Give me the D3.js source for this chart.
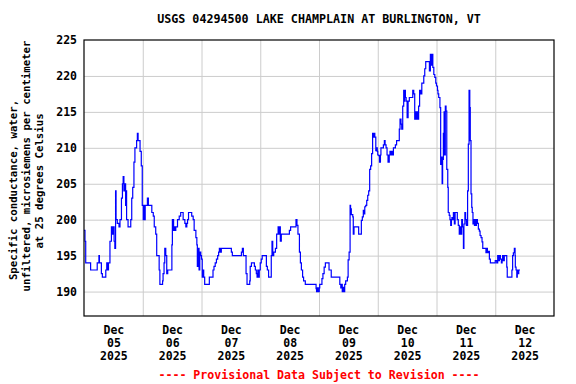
<!DOCTYPE html>
<html>
<head>
<meta charset="utf-8">
<script src="https://cdn.jsdelivr.net/npm/d3@7"></script>
<style>
body { margin: 0; background: #fff; }
svg text { font-family: "DejaVu Sans Mono", "Liberation Mono", monospace; font-weight: bold; fill: #000; }
</style>
</head>
<body>
<div id="chart"></div>
<script>
var chartTitle = "USGS 04294500 LAKE CHAMPLAIN AT BURLINGTON, VT";
var yTitleLines = ["Specific conductance, water,", "unfiltered, microsiemens per centimeter", "at 25 degrees Celsius"];
var footNote = "---- Provisional Data Subject to Revision ----";

var startDate = new Date(2025, 11, 5);
var endDate = new Date(2025, 11, 13);
var yTicks = [190, 195, 200, 205, 210, 215, 220, 225];
var dayLabels = ["05", "06", "07", "08", "09", "10", "11", "12"];

// hours after Dec 05 00:00 where the reading changes
var obsHours = [
  0, 0.4, 0.7, 2.7, 5.4, 6.1, 6.3, 7.1, 7.5, 8.9, 9.3, 9.6, 10.0, 10.6, 11.2, 11.6, 12.0, 12.3, 12.6, 12.9,
  13.1, 13.6, 14.3, 14.7, 15.3, 15.7, 16.0, 16.3, 16.6, 17.0, 17.3, 17.4, 18.0, 19.1, 19.5, 19.9, 20.4, 20.8, 21.5, 21.8,
  22.1, 22.9, 23.4, 23.8, 24.2, 24.5, 24.7, 25.0, 25.9, 26.3, 27.7, 28.3, 28.7, 29.3, 29.7, 30.7, 31.0, 32.1, 32.3, 32.7,
  33.0, 33.4, 33.8, 34.2, 35.9, 36.1, 36.6, 37.0, 37.3, 37.5, 38.2, 38.9, 39.5, 40.5, 41.2, 41.6, 42.0, 42.3, 42.7, 44.0,
  44.6, 45.0, 45.7, 46.1, 46.3, 46.7, 47.0, 47.3, 47.7, 48.0, 48.3, 48.6, 48.9, 49.3, 51.2, 52.7, 53.1, 53.6, 54.1, 54.6,
  55.0, 55.3, 55.6, 56.1, 60.2, 60.6, 64.3, 64.7, 65.1, 66.2, 66.6, 67.7, 67.9, 68.4, 69.6, 70.0, 70.4, 70.7, 71.0, 71.3,
  71.6, 72.0, 72.4, 72.8, 74.5, 74.9, 75.4, 76.5, 76.8, 77.1, 77.5, 78.2, 78.7, 79.3, 79.7, 80.0, 80.2, 80.6, 83.9, 84.4,
  86.6, 87.0, 87.4, 88.0, 88.4, 88.8, 89.3, 89.7, 90.4, 94.8, 95.0, 95.3, 95.6, 96.1, 96.3, 97.2, 97.6, 98.1, 98.6, 100.1,
  101.0, 104.5, 104.9, 105.2, 105.5, 105.8, 106.2, 106.5, 106.9, 107.6, 107.9, 108.3, 108.7, 108.9, 109.2, 109.8, 110.0, 110.3, 112.2, 113.3,
  113.7, 114.1, 114.4, 114.7, 115.1, 115.5, 115.9, 116.3, 116.7, 117.1, 117.5, 117.9, 118.2, 118.5, 118.8, 119.2, 119.5, 119.8, 120.0, 120.4,
  120.7, 121.1, 121.3, 122.3, 122.7, 123.0, 123.4, 123.8, 124.2, 124.7, 125.0, 125.2, 125.6, 126.0, 126.4, 127.2, 127.7, 128.8, 129.1, 129.5,
  129.8, 130.2, 130.6, 130.8, 131.0, 131.3, 131.6, 132.0, 132.4, 132.9, 134.3, 134.7, 135.1, 135.4, 135.7, 136.0, 136.3, 136.7, 137.1, 137.5,
  138.0, 138.8, 139.2, 139.6, 141.1, 141.5, 141.8, 142.2, 142.5, 142.9, 143.3, 143.7, 144.0, 144.4, 144.6, 144.9, 145.4, 145.7, 146.0, 146.3,
  146.5, 146.8, 147.1, 147.3, 147.6, 147.9, 148.2, 148.6, 148.8, 149.2, 149.5, 149.8, 150.1, 150.3, 150.6, 150.9, 151.3, 151.6, 152.2, 152.5,
  152.9, 153.3, 153.6, 153.9, 154.3, 154.6, 155.0, 155.2, 155.6, 155.9, 156.2, 156.7, 157.0, 157.3, 157.6, 157.8, 158.1, 158.4, 158.6, 158.9,
  159.2, 159.5, 159.7, 160.0, 160.3, 160.7, 161.1, 161.5, 161.8, 162.2, 162.6, 162.9, 163.7, 164.2, 164.5, 164.8, 165.2, 165.6, 166.0, 167.6,
  168.0, 168.6, 169.0, 169.4, 169.7, 170.1, 170.5, 170.8, 171.0, 171.3, 171.7, 172.4, 172.7, 172.9, 174.4, 174.8, 175.1, 175.4, 175.8, 176.1,
  176.2, 176.5, 176.8, 177.0, 177.3, 177.6, 178.1
];
var obsValues = [
  198.5, 197, 194, 193, 194, 195, 194, 192.5, 192, 193, 194, 193, 194, 197, 199, 198, 199, 197, 196, 204,
  200, 199.5, 199, 200, 203, 205, 206, 204, 205, 202, 204, 200, 199, 200, 203, 204.5, 208, 210, 211, 212,
  211, 209.5, 207.5, 202, 200, 202, 200, 202, 203, 202, 201, 200.5, 199, 198, 195, 193, 191, 191.5, 192.5, 194,
  196, 195, 192.5, 193, 196.5, 200, 198.5, 199, 198.5, 199, 200, 200.5, 201, 200, 199.5, 199, 199.5, 200, 201, 200.5,
  200, 198.5, 197.5, 196.5, 193.5, 196, 193, 195.5, 195, 194.5, 192, 193, 192, 191, 192, 193, 193.5, 194, 194.5, 195,
  195.5, 196, 195.5, 196, 195.5, 195, 195.5, 196, 195, 192.5, 191, 191.5, 193.5, 194, 193.5, 193, 192.5, 192, 193, 192,
  193, 194, 194.5, 195, 193.5, 193, 192, 195, 197, 195, 195.5, 196, 198, 199, 198, 199, 197, 198, 198.5, 199,
  200, 199.2, 198, 195.5, 194, 193, 192, 191.5, 191, 190.4, 190, 190.5, 190, 190.5, 191, 191.8, 192.5, 193.4, 194, 193,
  192, 191, 190.5, 191, 190, 190.6, 190, 191, 191.5, 192, 194.4, 195.5, 202, 201.5, 200.7, 200.4, 198, 199, 198, 199.9,
  200.4, 201.3, 200.8, 201.8, 202, 202.7, 203.4, 204, 207, 207.5, 209.2, 212, 211.5, 212, 211.5, 209.6, 210, 209.5, 209, 208.9,
  208, 209, 210, 210.4, 211, 210.4, 210, 209, 208, 209, 209.5, 209, 209.5, 209, 210, 210.4, 211, 212.6, 214, 213.3,
  212.6, 215.8, 218, 216.5, 218, 217, 216.5, 214.2, 216.5, 217, 218, 217.5, 214, 215, 214, 215, 214, 215.8, 218, 217.5,
  219, 220, 221, 222, 220.7, 223, 221.5, 223, 221.2, 220.2, 219.8, 219, 218.6, 218, 217.5, 217, 215.6, 207.7, 208.7, 205,
  208.4, 212, 215, 209, 215.8, 215.1, 207, 204.5, 201, 200.6, 200, 199.2, 200, 200.3, 200, 201, 199.4, 201, 201, 200,
  199.2, 198, 199, 198, 200, 199, 196, 199.4, 201, 200, 199.2, 204, 210.5, 218, 215.6, 211, 203.6, 201.7, 201, 199.4,
  200, 199.2, 200, 199.2, 200, 199.5, 198.7, 198.4, 197.8, 197.5, 196.9, 196, 196, 195.4, 196, 195.4, 195.6, 194.5, 194, 194,
  194.3, 194, 195, 194.3, 195, 194.5, 194, 194.3, 195, 194.3, 195, 195, 193.4, 192, 192, 193, 195, 195.4, 196, 195,
  193.4, 193, 192, 193, 192.5, 193, 193
];

var width = 576, height = 384;
var margin = { top: 40, left: 84, right: 22, bottom: 68 };
var plotW = width - margin.left - margin.right;
var plotH = height - margin.top - margin.bottom;

var readings = obsHours.map(function (h, i) {
  return { date: new Date(startDate.getTime() + h * 3600000), value: obsValues[i] };
});

var svg = d3.select("#chart").append("svg")
  .attr("width", width)
  .attr("height", height);

var g = svg.append("g")
  .attr("transform", "translate(" + margin.left + "," + margin.top + ")");

var x = d3.scaleTime().domain([startDate, endDate]).range([0, plotW]);
var y = d3.scaleLinear().domain([186.6, 225]).range([plotH, 0]);

// grid
var midnights = d3.timeDay.range(d3.timeDay.offset(startDate, 1), endDate);
g.append("g")
  .attr("class", "grid")
  .call(d3.axisBottom(x).tickValues(midnights).tickSize(plotH).tickFormat(""))
  .call(function (s) { s.select(".domain").remove(); })
  .selectAll("line").attr("stroke", "#cccccc");

g.append("g")
  .attr("class", "grid")
  .call(d3.axisLeft(y).tickValues(yTicks.slice(0, -1)).tickSize(-plotW).tickFormat(""))
  .call(function (s) { s.select(".domain").remove(); })
  .selectAll("line").attr("stroke", "#cccccc");

// y tick labels
var yAxis = g.append("g")
  .call(d3.axisLeft(y).tickValues(yTicks).tickSize(0).tickPadding(7));
yAxis.select(".domain").remove();
yAxis.selectAll("text").style("font-size", "11.5px");

// x tick labels at noon
var noons = d3.timeDay.range(startDate, endDate).map(function (d) { return d3.timeHour.offset(d, 12); });
var xAxis = g.append("g")
  .attr("transform", "translate(0," + plotH + ")")
  .call(d3.axisBottom(x).tickValues(noons).tickSize(0).tickFormat(""));
xAxis.select(".domain").remove();
xAxis.selectAll(".tick").each(function (d, i) {
  var t = d3.select(this).append("text")
    .attr("text-anchor", "middle")
    .style("font-size", "11.5px");
  ["Dec", dayLabels[i], "2025"].forEach(function (s, k) {
    t.append("tspan").attr("x", 0).attr("y", 18 + k * 13).text(s);
  });
});

// data line
g.append("clipPath").attr("id", "plotClip")
  .append("rect").attr("width", plotW).attr("height", plotH);

var line = d3.line()
  .x(function (d) { return x(d.date); })
  .y(function (d) { return y(d.value); })
  .curve(d3.curveStepAfter);

g.append("path")
  .datum(readings)
  .attr("clip-path", "url(#plotClip)")
  .attr("fill", "none")
  .attr("stroke", "#0000ff")
  .attr("stroke-width", 1.2)
  .attr("d", line);

// frame
g.append("rect")
  .attr("width", plotW)
  .attr("height", plotH)
  .attr("fill", "none")
  .attr("stroke", "#000")
  .attr("stroke-width", 1.2);

// title
svg.append("text")
  .attr("x", margin.left + plotW / 2)
  .attr("y", 23)
  .attr("text-anchor", "middle")
  .style("font-size", "11.7px")
  .text(chartTitle);

// y title, each line centred a little differently like the original
var yTitleShift = [-12, 12, -3];
var yt = svg.append("text")
  .attr("transform", "translate(0,178) rotate(-90)")
  .attr("text-anchor", "middle")
  .style("font-size", "10.7px");
yTitleLines.forEach(function (s, k) {
  yt.append("tspan").attr("x", yTitleShift[k]).attr("y", 17 + k * 13).text(s);
});

// footnote
svg.append("text")
  .attr("x", margin.left + plotW / 2)
  .attr("y", 379)
  .attr("text-anchor", "middle")
  .style("font-size", "11.6px")
  .style("fill", "#ff0000")
  .text(footNote);
</script>
</body>
</html>
